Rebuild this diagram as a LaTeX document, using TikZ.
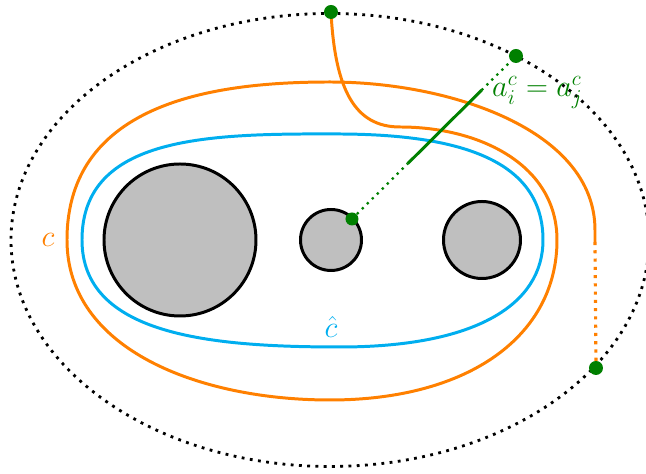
\documentclass[tikz,border=0pt]{standalone}
\usepackage{amsmath,amssymb}
\usepackage{xcolor}
\usepackage{tikz}
\usetikzlibrary{calc,positioning}

\definecolor{corange}{RGB}{255,128,0}
\definecolor{cblue}{RGB}{0,174,239}
\definecolor{cgreen}{RGB}{0,128,0}

\begin{document}
\begin{tikzpicture}[line join=round,
  disk/.style={draw=black,fill=black!25,line width=1.7pt},
  curv/.style={line width=1.7pt},
  bdry/.style={line width=1.6pt,dash pattern=on 1.6pt off 3.1pt},
  gdot/.style={circle,fill=cgreen,inner sep=0pt,minimum size=#1},
  gdot/.default=0.28cm]
  \useasboundingbox (-6.6,-4.68) rectangle (6.32,4.8);
  % boundary of the surface
  \draw[bdry] (0,0) ellipse (6.38 and 4.53);
  % holes
  \node[disk,circle,minimum size=3.04cm,inner sep=0pt] (h1) at (-3.0,0) {};
  \node[disk,circle,minimum size=1.22cm,inner sep=0pt] (h2) at (0.02,0) {};
  \node[disk,circle,minimum size=1.54cm,inner sep=0pt] (h3) at (3.04,0) {};
  % the curve c-hat
  \draw[curv,cblue] (-4.96,0) .. controls (-4.96,2.1) and (-2.4,2.13) .. (0.2,2.12)
    .. controls (2.8,2.11) and (4.26,1.5) .. (4.26,0)
    .. controls (4.26,-1.3) and (2.9,-2.14) .. (0.2,-2.14)
    .. controls (-2.4,-2.14) and (-4.96,-1.9) .. cycle;
  \node[cblue,font=\LARGE] (chat) at (0.02,-1.74) {$\hat{c}$};
  % end points on the boundary
  \coordinate (p) at (0.02,4.56);
  \coordinate (q) at (5.32,-2.56);
  \coordinate (r) at (3.72,3.68);
  \coordinate (s) at (0.44,0.42);
  \coordinate (e) at (5.30,-0.04);
  % the arc c
  \draw[curv,corange] (p) .. controls (0.1,3.0) and (0.5,2.26) .. (1.4,2.26)
    .. controls (3.0,2.26) and (4.54,1.5) .. (4.54,0)
    .. controls (4.54,-1.9) and (2.8,-3.2) .. (0,-3.2)
    .. controls (-2.6,-3.2) and (-5.26,-2.2) .. (-5.26,0)
    .. controls (-5.26,2.8) and (-2.2,3.16) .. (0,3.16)
    .. controls (2.4,3.16) and (5.3,2.2) .. (5.3,0.2) -- (e);
  \draw[corange,line width=1.8pt,dash pattern=on 1.8pt off 2.9pt] (e) -- (q);
  \node[corange,font=\LARGE] (clbl) at (-5.64,0) {$c$};
  % the arc a
  \coordinate (a1) at ($(s)!0.34!(r)$);
  \coordinate (a2) at ($(s)!0.79!(r)$);
  \draw[cgreen,line width=1.3pt,dash pattern=on 1.3pt off 2.7pt] (s) -- (a1);
  \draw[cgreen,line width=1.7pt] (a1) -- (a2);
  \draw[cgreen,line width=1.3pt,dash pattern=on 1.3pt off 2.7pt] (a2) -- (r);
  \node[cgreen,font=\LARGE,anchor=base west] (albl) at (3.12,2.86) {$a_i^c=a_j^c$};
  % marked points
  \node[gdot] (pd) at (p) {};
  \node[gdot] (qd) at (q) {};
  \node[gdot] (rd) at (r) {};
  \node[gdot=0.26cm] (sd) at (s) {};
\end{tikzpicture}
\end{document}
